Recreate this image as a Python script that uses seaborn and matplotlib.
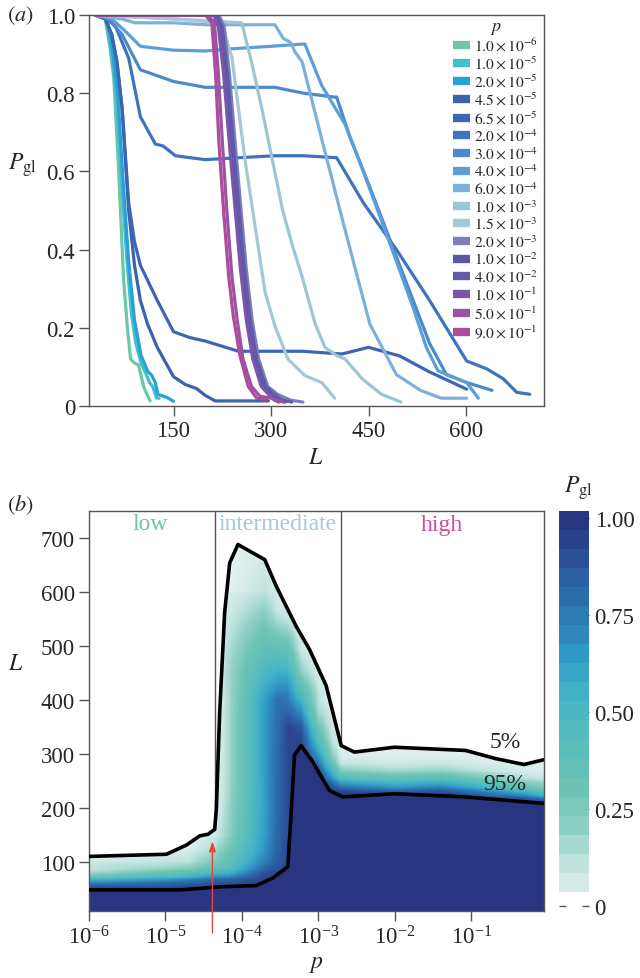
import numpy as np
import pandas as pd
import matplotlib
matplotlib.use("Agg")
import matplotlib.pyplot as plt
import seaborn as sns
from matplotlib.colors import LinearSegmentedColormap
from matplotlib.lines import Line2D

sns.set_style("ticks")
plt.rcParams["font.family"] = ["Liberation Serif", "DejaVu Serif"]
plt.rcParams["mathtext.fontset"] = "stix"

# ---------------- data: panel (a) ----------------
p_values = [1e-6, 1e-5, 2e-5, 4.5e-5, 6.5e-5, 2e-4, 3e-4, 4e-4, 6e-4,
            1e-3, 1.5e-3, 2e-3, 1e-2, 4e-2, 1e-1, 5e-1, 9e-1]
p_labels = [r"$\mathrm{1.0}\times\mathrm{10}^{-6}$", r"$\mathrm{1.0}\times\mathrm{10}^{-5}$",
            r"$\mathrm{2.0}\times\mathrm{10}^{-5}$", r"$\mathrm{4.5}\times\mathrm{10}^{-5}$",
            r"$\mathrm{6.5}\times\mathrm{10}^{-5}$", r"$\mathrm{2.0}\times\mathrm{10}^{-4}$",
            r"$\mathrm{3.0}\times\mathrm{10}^{-4}$", r"$\mathrm{4.0}\times\mathrm{10}^{-4}$",
            r"$\mathrm{6.0}\times\mathrm{10}^{-4}$", r"$\mathrm{1.0}\times\mathrm{10}^{-3}$",
            r"$\mathrm{1.5}\times\mathrm{10}^{-3}$", r"$\mathrm{2.0}\times\mathrm{10}^{-3}$",
            r"$\mathrm{1.0}\times\mathrm{10}^{-2}$", r"$\mathrm{4.0}\times\mathrm{10}^{-2}$",
            r"$\mathrm{1.0}\times\mathrm{10}^{-1}$", r"$\mathrm{5.0}\times\mathrm{10}^{-1}$",
            r"$\mathrm{9.0}\times\mathrm{10}^{-1}$"]
line_colors = ["#6cc7a7", "#3fc0cc", "#2a9fd8", "#3a62ad", "#3c66b5", "#3d74be",
               "#4a8acc", "#5b9fd8", "#7db0dc", "#9ec5d6", "#a6c7d6", "#7f7dbf",
               "#5a56a8", "#615aab", "#7b55a8", "#9a52a5", "#b04a9c"]

L_1e6 = [30, 45, 52, 58, 66, 73, 79, 84, 90, 96, 104, 109, 114]
P_1e6 = [1, 0.99, 0.92, 0.84, 0.59, 0.33, 0.2, 0.12, 0.11, 0.105, 0.05, 0.03, 0.013]
L_1e5 = [30, 47, 55, 62, 70, 78, 85, 92, 100, 107, 113, 118, 124, 128]
P_1e5 = [1, 0.99, 0.9, 0.8, 0.58, 0.38, 0.24, 0.16, 0.11, 0.085, 0.06, 0.05, 0.02, 0.02]
L_2e5 = [30, 48, 57, 65, 73, 81, 90, 100, 110, 117, 122, 126, 135, 142, 150]
P_2e5 = [1, 0.99, 0.9, 0.78, 0.56, 0.37, 0.22, 0.13, 0.09, 0.077, 0.06, 0.03, 0.025, 0.02, 0.012]
L_45e5 = [30, 45, 55, 63, 71, 81, 90, 99, 110, 125, 150, 168, 185, 199, 214, 260, 296]
P_45e5 = [1, 0.99, 0.95, 0.88, 0.76, 0.5, 0.36, 0.27, 0.21, 0.15, 0.075, 0.055, 0.045, 0.027, 0.013, 0.013, 0.013]
L_65e5 = [30, 45, 55, 63, 71, 81, 90, 99, 125, 150, 175, 199, 250, 300, 348, 409, 450, 498, 544, 601]
P_65e5 = [1, 0.99, 0.95, 0.88, 0.76, 0.52, 0.42, 0.36, 0.27, 0.19, 0.175, 0.166, 0.14, 0.14, 0.14, 0.133, 0.15, 0.128, 0.087, 0.043]
L_2e4 = [30, 45, 61, 81, 99, 122, 134, 153, 199, 250, 306, 350, 401, 442, 493, 544, 601, 632, 657, 678, 698]
P_2e4 = [1, 0.995, 0.97, 0.89, 0.74, 0.67, 0.665, 0.64, 0.63, 0.635, 0.64, 0.64, 0.635, 0.52, 0.40, 0.27, 0.115, 0.095, 0.07, 0.035, 0.03]
L_3e4 = [30, 50, 71, 99, 150, 199, 250, 306, 350, 398, 401, 421, 452, 498, 544, 570, 601, 640]
P_3e4 = [1, 0.99, 0.95, 0.86, 0.83, 0.815, 0.815, 0.815, 0.80, 0.79, 0.79, 0.69, 0.56, 0.36, 0.16, 0.08, 0.06, 0.04]
L_4e4 = [30, 55, 75, 99, 150, 199, 234, 300, 352, 378, 414, 442, 493, 519, 539, 557, 601, 619]
P_4e4 = [1, 0.99, 0.96, 0.92, 0.91, 0.908, 0.913, 0.92, 0.926, 0.82, 0.72, 0.60, 0.37, 0.25, 0.15, 0.09, 0.06, 0.02]
L_6e4 = [30, 70, 91, 150, 200, 250, 306, 319, 330, 337, 348, 380, 414, 452, 493, 530, 562, 601]
P_6e4 = [1, 0.99, 0.98, 0.98, 0.975, 0.975, 0.975, 0.94, 0.93, 0.905, 0.88, 0.67, 0.45, 0.21, 0.08, 0.04, 0.02, 0.02]
L_1e3 = [30, 150, 255, 270, 286, 302, 318, 333, 348, 368, 383, 400, 414, 440, 470, 500]
P_1e3 = [1, 0.99, 0.98, 0.88, 0.76, 0.63, 0.50, 0.41, 0.33, 0.21, 0.15, 0.13, 0.12, 0.07, 0.03, 0.01]
L_15e3 = [30, 150, 224, 240, 260, 291, 306, 326, 352, 378, 398]
P_15e3 = [1, 0.99, 0.98, 0.89, 0.63, 0.29, 0.205, 0.12, 0.078, 0.06, 0.02]
L_2e3 = [30, 220, 228, 236, 246, 254, 262, 271, 281, 295, 310, 330, 349]
P_2e3 = [1, 1, 0.97, 0.85, 0.65, 0.5, 0.35, 0.22, 0.12, 0.05, 0.03, 0.015, 0.01]
L_1e2 = [30, 215, 222, 230, 240, 248, 256, 265, 275, 288, 300, 312, 322]
P_1e2 = [1, 1, 0.97, 0.85, 0.65, 0.5, 0.35, 0.22, 0.12, 0.05, 0.03, 0.015, 0.01]
L_4e2 = [30, 217, 225, 233, 243, 251, 259, 268, 278, 292, 305, 318, 332]
P_4e2 = [1, 1, 0.97, 0.85, 0.65, 0.5, 0.35, 0.22, 0.12, 0.05, 0.03, 0.015, 0.01]
L_1e1 = [30, 212, 219, 227, 237, 245, 253, 262, 272, 285, 296, 305, 312]
P_1e1 = [1, 1, 0.97, 0.85, 0.65, 0.5, 0.35, 0.22, 0.12, 0.05, 0.03, 0.015, 0.01]
L_5e1 = [30, 203, 213, 219, 225, 232, 240, 248, 257, 270, 283, 300, 319]
P_5e1 = [1, 1, 0.98, 0.85, 0.68, 0.5, 0.33, 0.22, 0.12, 0.05, 0.025, 0.02, 0.01]
L_9e1 = [30, 199, 209, 215, 220, 227, 235, 242, 252, 265, 278, 293]
P_9e1 = [1, 1, 0.98, 0.84, 0.67, 0.50, 0.33, 0.23, 0.13, 0.05, 0.02, 0.017]

curves_L = [L_1e6, L_1e5, L_2e5, L_45e5, L_65e5, L_2e4, L_3e4, L_4e4, L_6e4,
            L_1e3, L_15e3, L_2e3, L_1e2, L_4e2, L_1e1, L_5e1, L_9e1]
curves_P = [P_1e6, P_1e5, P_2e5, P_45e5, P_65e5, P_2e4, P_3e4, P_4e4, P_6e4,
            P_1e3, P_15e3, P_2e3, P_1e2, P_4e2, P_1e1, P_5e1, P_9e1]

# ---------------- data: panel (b) contours ----------------
c5_logp = [-6, -4.986, -4.725, -4.551, -4.442, -4.355, -4.333, -4.29, -4.225, -4.159,
           -4.051, -3.70, -3.55, -3.29, -3.115, -2.897, -2.70, -2.527, -2.005, -1.07,
           -0.68, -0.308, -0.046]
c5_L = [111, 115, 132, 149, 152, 161, 200, 378, 562, 654, 688, 660, 611, 537, 494,
        427, 316, 304, 313, 307, 292, 281, 290]
c95_logp = [-6, -4.812, -4.246, -3.811, -3.594, -3.398, -3.354, -3.311, -3.224, -3.072,
            -2.854, -2.68, -2.005, -1.07, -0.046]
c95_L = [49, 49, 55, 57, 71, 92, 193, 298, 316, 286, 233, 221, 227, 221, 209]
region_bounds = [4.5e-5, 2e-3]
region_names = ["low", "intermediate", "high"]
region_colors = ["#6cc5a6", "#a5c9d6", "#cc4d9c"]
arrow_p = 4.12e-5

# ---------------- figure ----------------
W, H = 640, 979
fig = plt.figure(figsize=(W / 100, H / 100), dpi=100)

def fx(px):
    return px / W

def fy(py):
    return 1 - py / H

axA = fig.add_axes([fx(89), fy(407), fx(544) - fx(89), fy(16) - fy(407)])
axB = fig.add_axes([fx(89), fy(912), fx(544) - fx(89), fy(512) - fy(912)])

gray = "#555555"
TS = 16.5

# panel (a)
rows = []
for p, lab, L, P in zip(p_values, p_labels, curves_L, curves_P):
    for l, v in zip(L, P):
        rows.append({"p": lab, "L": l, "P": v})
df = pd.DataFrame(rows)
palette = dict(zip(p_labels, line_colors))
sns.lineplot(data=df, x="L", y="P", hue="p", hue_order=p_labels, palette=palette,
             estimator=None, sort=False, lw=2.3, ax=axA, legend=False)
axA.set_xlim(20, 720)
axA.set_ylim(0, 1.0)
axA.set_xticks([150, 300, 450, 600])
axA.set_yticks([0, 0.2, 0.4, 0.6, 0.8, 1.0])
axA.set_yticklabels(["0", "0.2", "0.4", "0.6", "0.8", "1.0"])
axA.set_xlabel("")
axA.set_ylabel("")
handles = [Line2D([0], [0], color=c, lw=6, solid_capstyle="butt") for c in line_colors]
leg = axA.legend(handles, p_labels, title=r"$p$", loc="upper left",
                 bbox_to_anchor=(0.797, 1.0), frameon=False, fontsize=11.2,
                 title_fontsize=13, handlelength=1.05, handletextpad=0.3,
                 labelspacing=0.08, borderpad=0.1, borderaxespad=0.0)

# panel (b): field built from the panel (a) curves
logp_curves = np.log10(p_values)
Lg = np.linspace(10, 750, 450)
lpg = np.linspace(-6, np.log10(0.9), 520)
Pc = np.array([np.interp(Lg, L, P, left=1.0, right=0.0) for L, P in zip(curves_L, curves_P)])
field = np.empty((len(Lg), len(lpg)))
for i in range(len(Lg)):
    field[i] = np.interp(lpg, logp_curves, Pc[:, i])
L5 = np.interp(lpg, c5_logp, c5_L)
L95 = np.interp(lpg, c95_logp, c95_L)
above = Lg[:, None] > L5[None, :]
below = Lg[:, None] < L95[None, :]
field[below] = 1.0
field = np.ma.masked_where(above, field)

cmap = LinearSegmentedColormap.from_list("pgl", [
    (0.0, "#e6f2f2"), (0.1, "#c5e5e0"), (0.2, "#8fd0c4"), (0.3, "#6cc4b4"),
    (0.45, "#55bcbd"), (0.55, "#42b2c8"), (0.65, "#3199c6"), (0.75, "#2c79b3"),
    (0.85, "#2b5ea3"), (0.92, "#2a4891"), (1.0, "#283580")])

axB.set_xscale("log")
axB.pcolormesh(10 ** lpg, Lg, field, cmap=cmap, vmin=0, vmax=1, shading="nearest",
               zorder=1, rasterized=True)
for b in region_bounds:
    axB.axvline(b, color=gray, lw=1.0, zorder=0.5)
axB.plot(10 ** np.array(c5_logp), c5_L, color="black", lw=2.6, zorder=3,
         solid_capstyle="round", solid_joinstyle="round")
axB.plot(10 ** np.array(c95_logp), c95_L, color="black", lw=2.6, zorder=3,
         solid_capstyle="round", solid_joinstyle="round")
axB.set_xlim(1e-6, 0.9)
axB.set_ylim(10, 750)
axB.set_yticks([100, 200, 300, 400, 500, 600, 700])
axB.set_xticks([1e-6, 1e-5, 1e-4, 1e-3, 1e-2, 1e-1])
axB.xaxis.set_minor_locator(matplotlib.ticker.NullLocator())
axB.annotate("", xy=(arrow_p, 139), xytext=(arrow_p, -31),
             arrowprops=dict(arrowstyle="-|>,head_length=0.6,head_width=0.2",
                             color="#e8443a", lw=1.0, shrinkA=0, shrinkB=0),
             annotation_clip=False, zorder=5)

for ax in (axA, axB):
    for s in ax.spines.values():
        s.set_color(gray)
        s.set_linewidth(1.0)
        s.set_visible(True)
    ax.tick_params(axis="both", which="both", direction="out", length=7, width=1,
                   color=gray, labelsize=TS, pad=3)

# colorbar
cax = fig.add_axes([fx(559), fy(906.7), fx(589) - fx(559), fy(511.7) - fy(906.7)])
bounds = np.linspace(0.035, 1.02, 21)
mids = 0.5 * (bounds[:-1] + bounds[1:])
cax.pcolormesh([0, 1], bounds, np.clip(mids, 0, 1).reshape(-1, 1), cmap=cmap,
               vmin=0, vmax=1)
cax.set_xlim(0, 1)
cax.set_ylim(0, 1.02)
for s in cax.spines.values():
    s.set_visible(False)
cax.set_xticks([])
cax.yaxis.tick_right()
cax.set_yticks([0, 0.25, 0.5, 0.75, 1.0])
cax.set_yticklabels(["0", "0.25", "0.50", "0.75", "1.00"])
cax.tick_params(axis="y", direction="in", length=5, width=1, color=gray,
                labelsize=TS, pad=4, left=True)

# texts
fig.text(fx(578), fy(488), r"$P_{\rm gl}$", fontsize=17, ha="center", va="center")
fig.text(fx(20), fy(16), r"$(a)$", fontsize=16, ha="center", va="center")
fig.text(fx(20), fy(505), r"$(b)$", fontsize=16, ha="center", va="center")
fig.text(fx(22), fy(165), r"$P_{\rm gl}$", fontsize=17, ha="center", va="center")
fig.text(fx(316), fy(459), r"$L$", fontsize=17, ha="center", va="center")
fig.text(fx(16), fy(665), r"$L$", fontsize=17, ha="center", va="center")
fig.text(fx(316), fy(965), r"$p$", fontsize=17, ha="center", va="center")
for name, col, px in zip(region_names, region_colors, [150, 278, 442]):
    fig.text(fx(px), fy(525), name, color=col, fontsize=17, ha="center", va="center")
fig.text(fx(505), fy(743), "5%", fontsize=17, ha="center", va="center")
fig.text(fx(505), fy(785), "95%", fontsize=17, ha="center", va="center")

fig.savefig("out.png", dpi=100)
